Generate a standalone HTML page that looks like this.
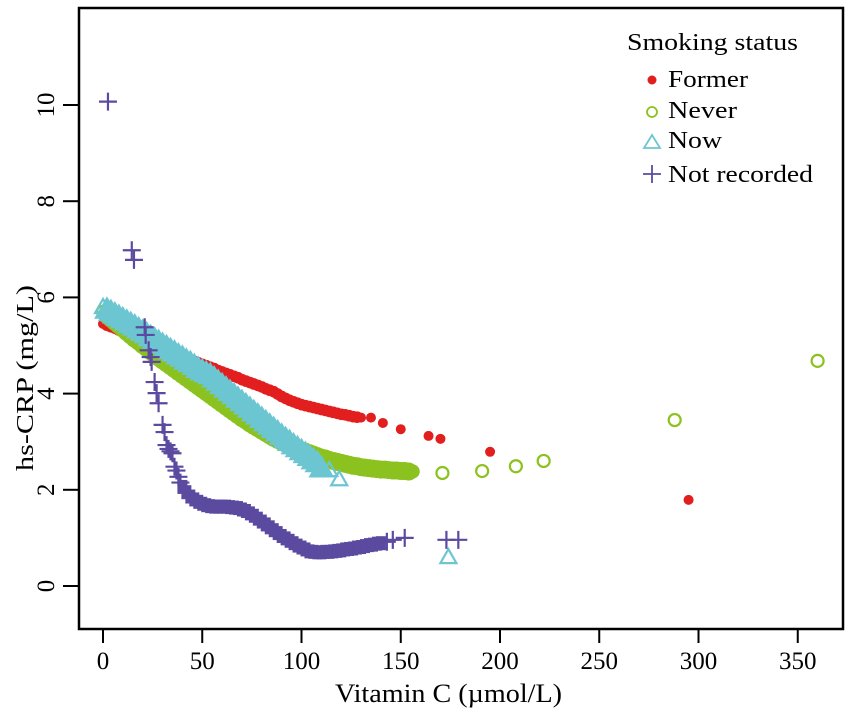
<!DOCTYPE html>
<html><head><meta charset="utf-8"><style>
html,body{margin:0;padding:0;background:#fff;}
svg{display:block;font-family:"Liberation Serif",serif;}
</style></head><body>
<svg id="chart" width="851" height="714" viewBox="0 0 851 714" xmlns="http://www.w3.org/2000/svg">
<rect x="0" y="0" width="851" height="714" fill="#fff"/>
<g id="marks"></g>
<rect x="79" y="8" width="764" height="621" fill="none" stroke="#000" stroke-width="2.5"/>
<g id="axes"></g>
<text x="335" y="702" font-size="26" textLength="227" lengthAdjust="spacingAndGlyphs">Vitamin C (µmol/L)</text>
<text transform="translate(33,378) rotate(-90)" text-anchor="middle" font-size="24" textLength="186" lengthAdjust="spacingAndGlyphs">hs-CRP (mg/L)</text>
<g>
<text x="627" y="50" font-size="24" textLength="171" lengthAdjust="spacingAndGlyphs">Smoking status</text>
<circle cx="652" cy="80" r="4.5" fill="#e31e1e"/>
<text x="668" y="87" font-size="24" textLength="80" lengthAdjust="spacingAndGlyphs">Former</text>
<circle cx="652" cy="112" r="5" fill="none" stroke="#8cc21f" stroke-width="1.8"/>
<text x="668" y="118" font-size="24" textLength="69" lengthAdjust="spacingAndGlyphs">Never</text>
<polygon points="652,135 644,148 660,148" fill="none" stroke="#6cc6d2" stroke-width="1.8"/>
<text x="668" y="148" font-size="24" textLength="54" lengthAdjust="spacingAndGlyphs">Now</text>
<path d="M643,174 H661 M652,165 V183" stroke="#5b4a9f" stroke-width="1.8"/>
<text x="668" y="182" font-size="24" textLength="145" lengthAdjust="spacingAndGlyphs">Not recorded</text>
</g>
</svg>
<script>
const xTicks = [0,50,100,150,200,250,300,350];
const yTicks = [0,2,4,6,8,10];
const formerX = [0,2,4,6,8,10,12,14,16,18,20,22,24,26,28,30,32,34,36,38,40,42,44,46,48,50,52,54,56,58,60,62,64,66,68,70,72,74,76,78,80,82,84,86,88,90,92,94,96,98,100,102,104,106,108,110,112,114,116,118,120,122,124,126,128,130,135,141,150,164,170,195,295];
const formerY = [5.45,5.42,5.39,5.36,5.32,5.29,5.25,5.22,5.18,5.15,5.11,5.08,5.04,5.01,4.97,4.94,4.90,4.87,4.83,4.80,4.77,4.74,4.70,4.67,4.64,4.61,4.58,4.55,4.52,4.48,4.45,4.42,4.39,4.36,4.33,4.29,4.26,4.23,4.20,4.17,4.14,4.10,4.07,4.04,3.99,3.94,3.90,3.86,3.83,3.80,3.77,3.75,3.73,3.71,3.69,3.67,3.65,3.63,3.61,3.59,3.57,3.56,3.54,3.52,3.51,3.50,3.50,3.39,3.26,3.12,3.06,2.79,1.79];
const neverX = [0,2,4,6,8,10,12,14,16,18,20,22,24,26,28,30,32,34,36,38,40,42,44,46,48,50,52,54,56,58,60,62,64,66,68,70,72,74,76,78,80,82,84,86,88,90,92,94,96,98,100,102,104,106,108,110,112,114,116,118,120,122,124,126,128,130,132,134,136,138,140,142,144,146,148,150,152,154,156,171,191,208,222,288,360];
const neverY = [5.70,5.63,5.56,5.49,5.42,5.35,5.28,5.21,5.14,5.08,5.01,4.95,4.88,4.82,4.75,4.69,4.63,4.57,4.51,4.45,4.39,4.33,4.27,4.21,4.15,4.09,4.03,3.97,3.91,3.85,3.79,3.73,3.67,3.61,3.55,3.49,3.44,3.38,3.33,3.28,3.23,3.18,3.13,3.08,3.04,3.00,2.96,2.92,2.89,2.85,2.82,2.79,2.76,2.73,2.70,2.67,2.65,2.62,2.60,2.58,2.56,2.54,2.52,2.50,2.49,2.47,2.46,2.45,2.44,2.43,2.42,2.42,2.41,2.40,2.40,2.39,2.39,2.38,2.38,2.35,2.39,2.49,2.60,3.45,4.68];
const nowX = [0,2,4,6,8,10,12,14,16,18,20,22,24,26,28,30,32,34,36,38,40,42,44,46,48,50,52,54,56,58,60,62,64,66,68,70,72,74,76,78,80,82,84,86,88,90,92,94,96,98,100,102,104,106,108,110,114,119,174];
const nowY = [5.80,5.75,5.70,5.65,5.60,5.55,5.50,5.45,5.40,5.34,5.29,5.24,5.18,5.13,5.08,5.02,4.97,4.91,4.86,4.80,4.75,4.69,4.64,4.58,4.52,4.47,4.43,4.39,4.32,4.25,4.18,4.11,4.04,3.97,3.90,3.83,3.76,3.69,3.62,3.55,3.48,3.41,3.34,3.27,3.20,3.13,3.06,3.00,2.93,2.87,2.81,2.75,2.69,2.62,2.56,2.45,2.41,2.22,0.60];
const notRecX = [2.5,14.5,15.6,21,21.5,23,24,24.5,26,27,28,30,31,32,33,34,35,36,37,38,39,40,42,44,46,48,50,52,54,56,58,60,62,64,66,68,70,72,74,76,78,80,82,84,86,88,90,92,94,96,98,100,102,104,106,108,110,112,114,116,118,120,122,124,126,128,130,132,134,136,138,140,143,146,152,173,179];
const notRecY = [10.07,6.98,6.78,5.38,5.22,4.90,4.76,4.66,4.24,4.01,3.80,3.35,3.20,2.93,2.85,2.80,2.76,2.48,2.40,2.27,2.15,2.06,1.95,1.86,1.80,1.75,1.71,1.68,1.66,1.65,1.65,1.65,1.65,1.64,1.63,1.62,1.59,1.56,1.51,1.46,1.40,1.34,1.28,1.22,1.16,1.10,1.04,0.99,0.94,0.89,0.84,0.80,0.76,0.72,0.71,0.70,0.70,0.71,0.71,0.72,0.73,0.74,0.76,0.77,0.78,0.80,0.81,0.83,0.85,0.86,0.88,0.89,0.92,0.96,1.00,0.96,0.96];

const NS = 'http://www.w3.org/2000/svg';
const sx = v => 103 + v * 1.985;
const sy = v => 586 - v * 48.1;
const marks = document.getElementById('marks');
const axes = document.getElementById('axes');
function mk(tag, attrs, parent) {
  const el = document.createElementNS(NS, tag);
  for (const k in attrs) el.setAttribute(k, attrs[k]);
  parent.appendChild(el);
  return el;
}
// a point is "dense" if it has a close neighbour on both sides (the heavy overplotted band)
function dense(xs, i) {
  const a = i > 0 ? xs[i] - xs[i - 1] : 99;
  const b = i < xs.length - 1 ? xs[i + 1] - xs[i] : 99;
  return Math.min(a, b) <= 2.5 && Math.max(a, b) <= 4;
}
xTicks.forEach(t => {
  const ln = mk('line', {x1: sx(t), x2: sx(t), y1: 629, y2: 643, stroke: '#000', 'stroke-width': 2}, axes);
  
  
  const tx = mk('text', {x: sx(t), y: 669, 'text-anchor': 'middle', 'font-size': 25, textLength: String(t).length * 12.5, lengthAdjust: 'spacingAndGlyphs'}, axes);
  tx.textContent = t;
  
  
});
yTicks.forEach(t => {
  const ln = mk('line', {x1: 63, x2: 79, y1: sy(t), y2: sy(t), stroke: '#000', 'stroke-width': 2}, axes);
  
  
  const tx = mk('text', {transform: 'translate(54,' + sy(t) + ') rotate(-90)', 'text-anchor': 'middle', 'font-size': 25, textLength: String(t).length * 12.5, lengthAdjust: 'spacingAndGlyphs'}, axes);
  tx.textContent = t;
  
  
});
const gF = mk('g', {}, marks);


formerX.forEach((x, i) => {
  const d = dense(formerX, i);
  const c = mk('circle', {cx: sx(x), cy: sy(formerY[i]), r: d ? 5.8 : 5, fill: '#e31e1e'}, gF);
  
  
});
const gN = mk('g', {}, marks);


neverX.forEach((x, i) => {
  const d = dense(neverX, i);
  const c = mk('circle', d ? {cx: sx(x), cy: sy(neverY[i]), r: 9, fill: '#8cc21f'} : {cx: sx(x), cy: sy(neverY[i]), r: 6, fill: 'none', stroke: '#8cc21f', 'stroke-width': 2.2}, gN);
  
  
});
const gW = mk('g', {}, marks);


nowX.forEach((x, i) => {
  const px = sx(x), py = sy(nowY[i]);
  const d = dense(nowX, i);
  const s = d ? 11 : 8;
  const p = mk('polygon', {points: px + ',' + (py - s) + ' ' + (px - s) + ',' + (py + s * 0.75) + ' ' + (px + s) + ',' + (py + s * 0.75), fill: d ? '#6cc6d2' : 'none', stroke: '#6cc6d2', 'stroke-width': 2.2}, gW);
  
  
});
const gP = mk('g', {}, marks);


notRecX.forEach((x, i) => {
  const px = sx(x), py = sy(notRecY[i]);
  const d = dense(notRecX, i) && x >= 40 && x <= 140;
  if (d) {
    const r = mk('rect', {x: px - 5, y: py - 7, width: 10, height: 14, fill: '#5b4a9f'}, gP);
    
    
  } else {
    const p = mk('path', {d: 'M' + (px - 9) + ',' + py + ' H' + (px + 9) + ' M' + px + ',' + (py - 9) + ' V' + (py + 9), stroke: '#5b4a9f', 'stroke-width': 2.2}, gP);
    
    
  }
});
</script>
</body></html>
